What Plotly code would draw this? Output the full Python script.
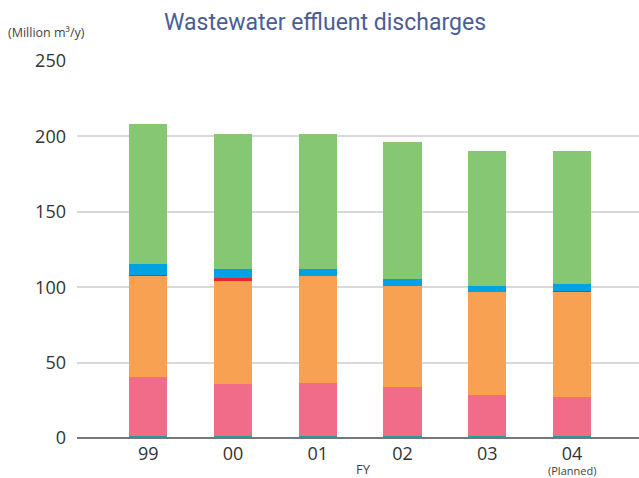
import plotly.graph_objects as go

years = ["99", "00", "01", "02", "03", "04"]
teal = [1.0, 1.0, 1.0, 1.0, 1.0, 1.0]
pink = [39.3, 34.5, 35.8, 33.1, 27.8, 25.9]
orange = [67.5, 68.9, 70.3, 67.0, 67.7, 70.2]
red = [0.6, 1.4, 0.0, 0.0, 0.0, 0.6]
blue = [7.1, 6.4, 5.3, 4.6, 4.6, 4.1]
green = [93.0, 89.7, 89.5, 90.3, 88.9, 88.8]
yticks = [0, 50, 100, 150, 200, 250]

series = [
    (teal, "#1b9fa3"),
    (pink, "#f06c89"),
    (orange, "#f9a152"),
    (red, "#ea2330"),
    (blue, "#00a2e1"),
    (green, "#86c773"),
]

fig = go.Figure()
for vals, col in series:
    fig.add_trace(go.Bar(x=years, y=vals, marker=dict(color=col, line=dict(width=0)),
                         width=0.45, showlegend=False))

L, T, B = 77, 61, 40
W, H = 639, 478
pw = W - L
ph = H - T - B

def px(x):
    return (x - L) / pw

def py(y):
    return (H - B - y) / ph

fig.update_layout(
    width=W, height=H,
    barmode="stack",
    bargap=0,
    plot_bgcolor="white", paper_bgcolor="white",
    margin=dict(l=L, r=0, t=T, b=B, autoexpand=False),
    font=dict(family="Open Sans, DejaVu Sans, sans-serif", color="#333333"),
    xaxis=dict(type="category", range=[-0.84, 5.79], showgrid=False,
               showline=False, zeroline=False, ticks="", ticklabelstandoff=3,
               tickfont=dict(size=18, color="#333333")),
    yaxis=dict(range=[0, 250], tickvals=yticks, showgrid=True, gridcolor="#d9d9d9",
               gridwidth=2, zeroline=True, zerolinecolor="#777777", zerolinewidth=2,
               showline=False, ticks="", ticklabelstandoff=10,
               tickfont=dict(size=18, color="#333333")),
    annotations=[
        dict(text="Wastewater effluent discharges", xref="paper", yref="paper",
             x=px(325), y=py(22), xanchor="center", yanchor="middle", showarrow=False,
             font=dict(family="Roboto, Liberation Sans, sans-serif",
                       size=23, color="#4b5d94")),
        dict(text="(Million m³/y)", xref="paper", yref="paper",
             x=px(6), y=py(32), xanchor="left", yanchor="middle", showarrow=False,
             font=dict(size=12.5, color="#444444")),
        dict(text="FY", xref="paper", yref="paper",
             x=px(363), y=py(469.5), xanchor="center", yanchor="middle", showarrow=False,
             font=dict(size=13, color="#444444")),
        dict(text="(Planned)", xref="x", yref="paper",
             x=5, y=py(470), xanchor="center", yanchor="middle", showarrow=False,
             font=dict(size=11, color="#444444")),
    ],
)

fig.write_html("out.html", config={"displayModeBar": False},
               post_script="document.body.style.margin='0';")
